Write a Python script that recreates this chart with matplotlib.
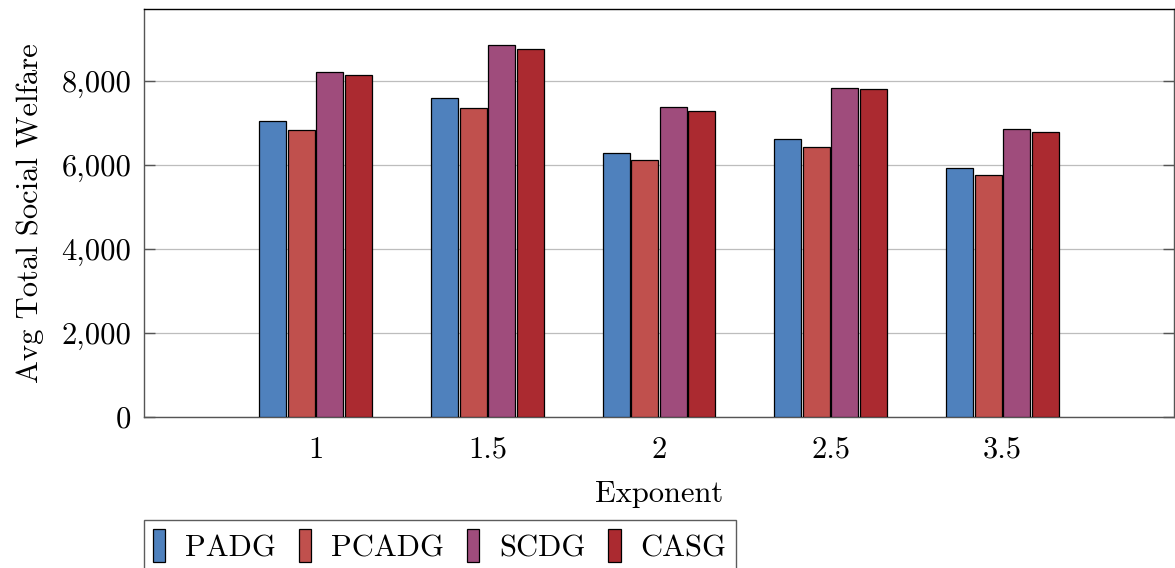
import matplotlib
matplotlib.use("Agg")
import matplotlib.pyplot as plt
from matplotlib.ticker import FuncFormatter, MultipleLocator
import numpy as np

plt.rcParams["font.family"] = "cmr10"
plt.rcParams["axes.formatter.use_mathtext"] = True

exponents = ["1", "1.5", "2", "2.5", "3.5"]
series = ["PADG", "PCADG", "SCDG", "CASG"]
padg = [7040, 7595, 6278, 6627, 5937]
pcadg = [6833, 7350, 6111, 6437, 5770]
scdg = [8214, 8850, 7373, 7841, 6849]
casg = [8136, 8762, 7278, 7802, 6778]
colors = ["#4f81bd", "#c0504d", "#9f4c7c", "#ab2a30"]

fig = plt.figure(figsize=(11.75, 5.68), dpi=100)
ax = fig.add_axes([144 / 1175, 1 - 417 / 568, 1030 / 1175, 408 / 568])

x = np.arange(len(exponents))
pitch = 0.166
width = 0.158
for k, (name, vals, col) in enumerate(zip(series, [padg, pcadg, scdg, casg], colors)):
    ax.bar(x + (k - 1.5) * pitch, vals, width, color=col, edgecolor="black",
           linewidth=0.9, label=name, zorder=3)

ax.set_xlim(-1, 5)
ax.set_ylim(0, 9714)
ax.set_xticks(x)
ax.set_xticklabels(exponents)
ax.yaxis.set_major_locator(MultipleLocator(2000))
ax.yaxis.set_major_formatter(FuncFormatter(lambda v, p: f"{int(v):,}"))
ax.grid(axis="y", color="#bdbdbd", linewidth=0.9, zorder=0)
ax.tick_params(axis="x", length=0, labelsize=22, pad=14)
ax.tick_params(axis="y", direction="in", length=8, width=1.0, color="#555555",
               labelsize=22, pad=9, right=True)
for side in ["left", "bottom", "right"]:
    ax.spines[side].set_color("#555555")
ax.spines["top"].set_color("black")
for s in ax.spines.values():
    s.set_linewidth(1.0)

ax.set_xlabel("Exponent", fontsize=22, labelpad=12)
ax.set_ylabel("Avg Total Social Welfare", fontsize=22, labelpad=13)

leg = fig.legend(loc="upper left", bbox_to_anchor=(144 / 1175, 1 - 520 / 568),
                 ncol=4, fontsize=22, frameon=True, fancybox=False,
                 handlelength=0.4, handleheight=1.3, handletextpad=0.65,
                 columnspacing=0.75, borderaxespad=0, borderpad=0.3)
leg.get_frame().set_edgecolor("#333333")
leg.get_frame().set_linewidth(1.0)

fig.savefig("out.png", dpi=100)
